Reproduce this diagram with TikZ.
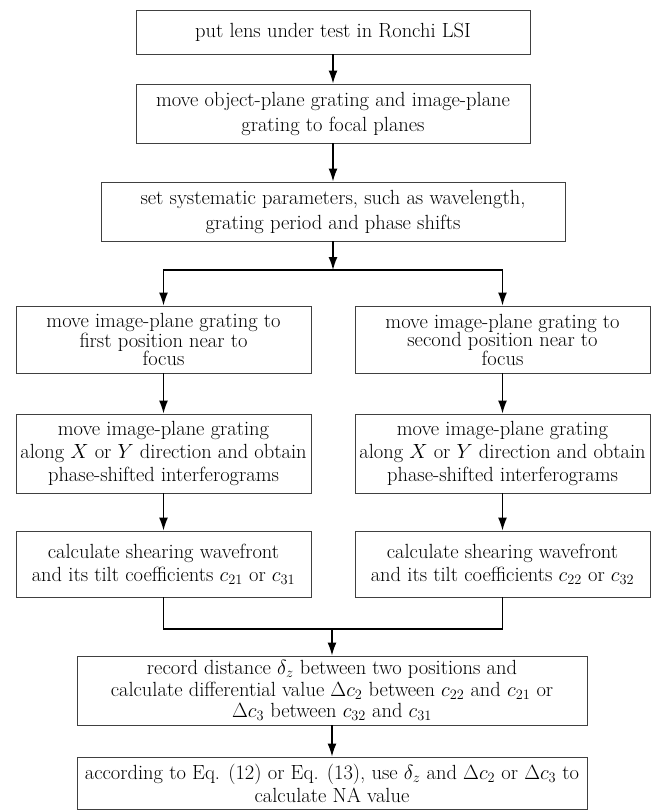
\RequirePackage{fix-cm}
\documentclass[tikz,border=0pt]{standalone}
\usetikzlibrary{arrows.meta}

\begin{document}
\begin{tikzpicture}[node distance=100pt, >={Latex[length=13pt,width=9pt]}]
\tikzstyle{bx}=[rectangle, draw=black!75, line width=0.9pt, align=center, inner sep=1pt, font=\fontsize{20.5}{23}\selectfont]
\tikzstyle{bxc}=[bx, minimum width=394pt]
\tikzstyle{bxm}=[bx, minimum width=464pt]
\tikzstyle{bxs}=[bx, minimum width=295pt]
\tikzstyle{bxw}=[bx, minimum width=510pt]
\tikzstyle{arr}=[->, line width=1.5pt]
\useasboundingbox (0,0) rectangle (658pt,-811pt);
\node (s1) [bxc, minimum height=44pt] at (333pt,-32pt) {put lens under test in Ronchi LSI};
\node (s2) [bxc, minimum height=59pt, below of=s1, yshift=18.5pt, font=\fontsize{20.5}{25}\selectfont] {move object-plane grating and image-plane\\grating to focal planes};
\node (s3) [bxm, minimum height=59pt, below of=s2, yshift=2pt, font=\fontsize{20.5}{25}\selectfont] {set systematic parameters, such as wavelength,\\grating period and phase shifts};
\coordinate [below of=s3, yshift=41.5pt] (j1);

\node (l4) [bxs, minimum height=67pt, below of=s3, xshift=-169.5pt, yshift=-28pt, font=\fontsize{20.5}{18.5}\selectfont] {move image-plane grating to\\first position near to\\focus};
\node (r4) [bxs, minimum height=67pt, below of=s3, xshift=169.5pt, yshift=-28pt, font=\fontsize{20.5}{18.5}\selectfont] {move image-plane grating to\\second position near to\\focus};
\node (l5) [bxs, minimum height=79pt, below of=l4, yshift=-14pt] {move image-plane grating\\along $X$ or $Y$ direction and obtain\\phase-shifted interferograms};
\node (r5) [bxs, minimum height=79pt, below of=r4, yshift=-14pt] {move image-plane grating\\along $X$ or $Y$ direction and obtain\\phase-shifted interferograms};
\node (l6) [bxs, minimum height=66pt, below of=l5, yshift=-10.5pt] {calculate shearing wavefront\\and its tilt coefficients $c_{21}$ or $c_{31}$};
\node (r6) [bxs, minimum height=66pt, below of=r5, yshift=-10.5pt] {calculate shearing wavefront\\and its tilt coefficients $c_{22}$ or $c_{32}$};

\node (s7) [bxw, minimum height=69pt, below of=l6, xshift=168.5pt, yshift=-26.5pt, font=\fontsize{20.5}{21.7}\selectfont] {record distance $\delta_z$ between two positions and\\calculate differential value $\Delta c_2$ between $c_{22}$ and $c_{21}$ or\\$\Delta c_3$ between $c_{32}$ and $c_{31}$};
\coordinate [above of=s7, yshift=-38.5pt] (j2);
\node (s8) [bxw, minimum height=52pt, below of=s7, yshift=7.5pt] {according to Eq. (12) or Eq. (13), use $\delta_z$ and $\Delta c_2$ or $\Delta c_3$ to\\calculate NA value};

\draw[arr] (s1) -- (s2);
\draw[arr] (s2) -- (s3);
\draw[arr] (s3) -- (j1);
\draw[arr] (j1) -| (l4);
\draw[arr] (j1) -| (r4);
\draw[arr] (l4) -- (l5);
\draw[arr] (r4) -- (r5);
\draw[arr] (l5) -- (l6);
\draw[arr] (r5) -- (r6);
\draw[line width=1.5pt] (l6) |- (j2) -| (r6);
\draw[arr] (j2) -- (s7);
\draw[arr] (s7) -- (s8);
\end{tikzpicture}
\end{document}
